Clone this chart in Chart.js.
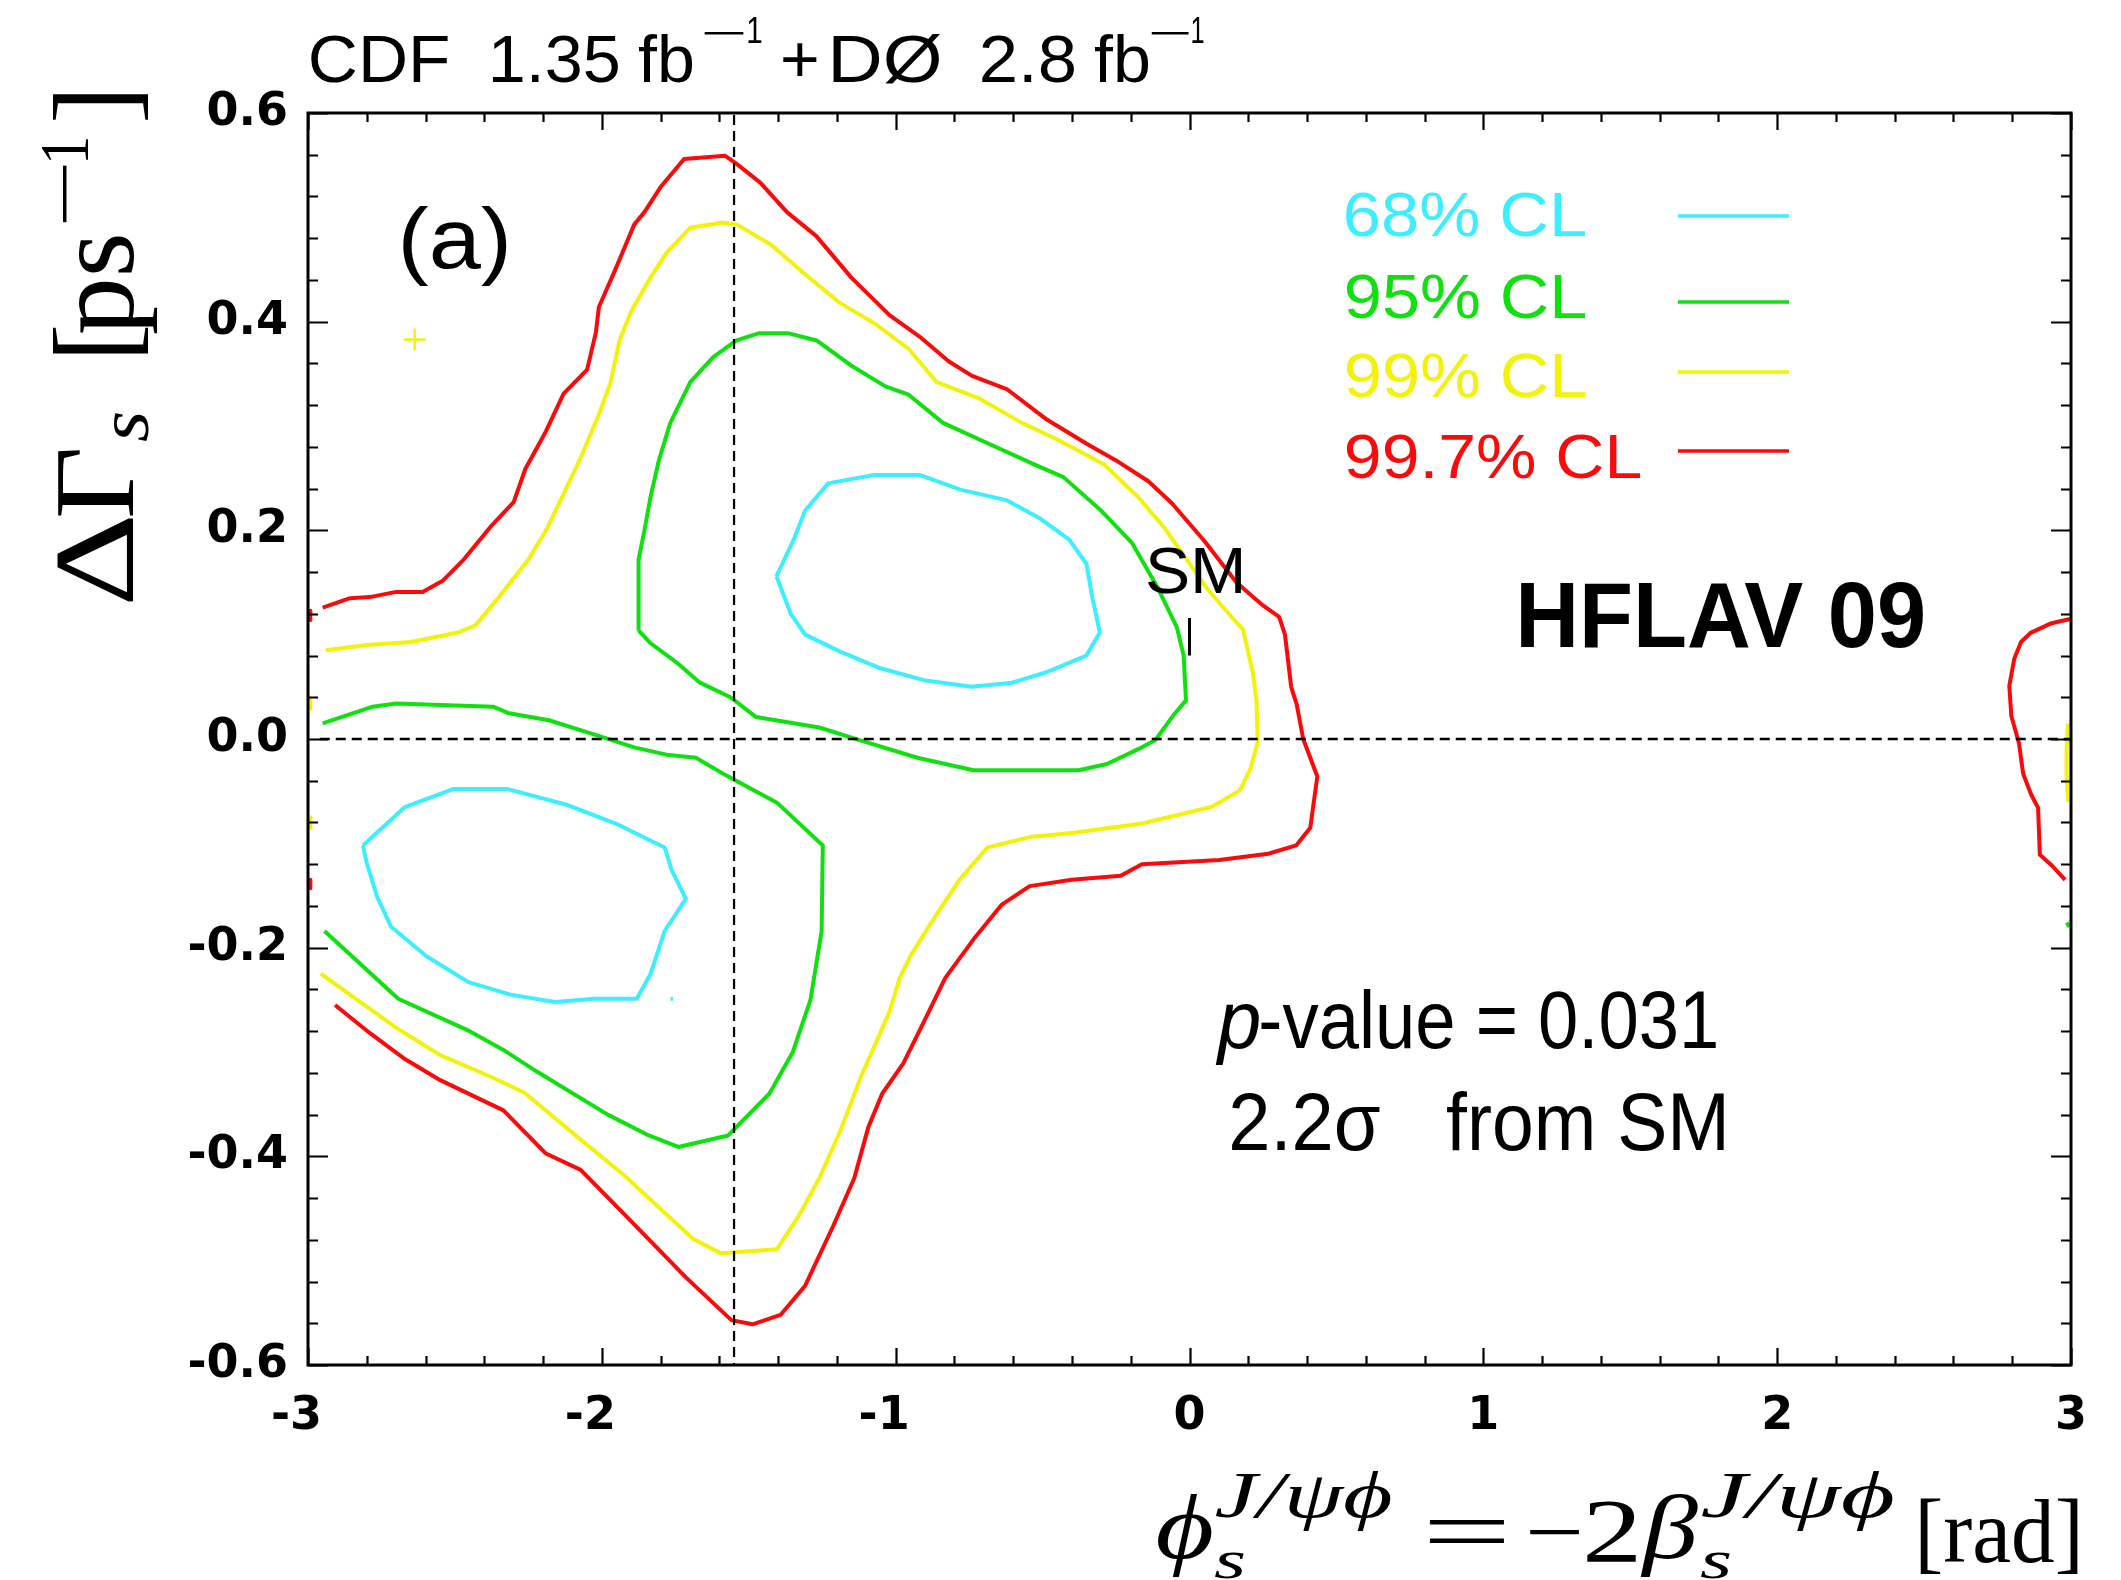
<!DOCTYPE html>
<html><head><meta charset="utf-8">
<script src="https://cdn.jsdelivr.net/npm/chart.js@4.4.1/dist/chart.umd.min.js"></script>
<style>html,body{margin:0;padding:0;background:#fff;}canvas{display:block;}</style>
</head><body>
<canvas id="c" width="2121" height="1580" style="width:2121px;height:1580px"></canvas>
<script>
// ---------- axis ticks ----------
const xTickValues = [-3, -2, -1, 0, 1, 2, 3];
const xTickLabels = ['-3', '-2', '-1', '0', '1', '2', '3'];
const yTickValues = [-0.6, -0.4, -0.2, 0, 0.2, 0.4, 0.6];
const yTickLabels = ['-0.6', '-0.4', '-0.2', '0.0', '0.2', '0.4', '0.6'];

// ---------- contour lines [phi_s, dGamma_s] ----------
const cl997Main = [[-2.95,0.126],[-2.857,0.135],[-2.79,0.136],[-2.70,0.141],[-2.61,0.141],[-2.54,0.152],[-2.47,0.172],[-2.38,0.203],[-2.30,0.227],[-2.26,0.259],[-2.19,0.295],[-2.13,0.331],[-2.05,0.354],[-2.02,0.390],[-2.01,0.414],[-1.96,0.446],[-1.93,0.466],[-1.89,0.493],[-1.855,0.505],[-1.80,0.529],[-1.72,0.556],[-1.58,0.559],[-1.54,0.551],[-1.46,0.533],[-1.37,0.505],[-1.27,0.482],[-1.15,0.442],[-1.02,0.406],[-0.92,0.386],[-0.82,0.362],[-0.74,0.348],[-0.62,0.335],[-0.49,0.307],[-0.35,0.283],[-0.25,0.267],[-0.14,0.247],[-0.06,0.226],[0.05,0.19],[0.16,0.150],[0.25,0.128],[0.305,0.117],[0.325,0.10],[0.346,0.05],[0.365,0.033],[0.387,0.0],[0.435,-0.036],[0.411,-0.085],[0.363,-0.102],[0.268,-0.110],[0.101,-0.116],[-0.162,-0.120],[-0.234,-0.131],[-0.401,-0.135],[-0.544,-0.141],[-0.640,-0.159],[-0.735,-0.192],[-0.831,-0.229],[-0.902,-0.270],[-0.974,-0.311],[-1.046,-0.340],[-1.093,-0.372],[-1.141,-0.421],[-1.213,-0.467],[-1.308,-0.524],[-1.392,-0.552],[-1.487,-0.561],[-1.559,-0.557],[-1.714,-0.516],[-1.929,-0.454],[-2.072,-0.413],[-2.192,-0.397],[-2.335,-0.356],[-2.550,-0.327],[-2.669,-0.307],[-2.789,-0.282],[-2.908,-0.255]];
const cl997Right = [[2.997,0.115],[2.934,0.111],[2.864,0.102],[2.83,0.093],[2.807,0.077],[2.79,0.051],[2.797,0.022],[2.823,-0.004],[2.837,-0.033],[2.864,-0.053],[2.888,-0.066],[2.894,-0.111],[2.934,-0.121],[2.98,-0.135]];
const cl997EdgeA = [[-2.992,0.123],[-2.992,0.114]];
const cl997EdgeB = [[-2.992,-0.135],[-2.992,-0.143]];

const cl99Main = [[-2.94,0.085],[-2.80,0.090],[-2.65,0.093],[-2.49,0.102],[-2.43,0.109],[-2.35,0.136],[-2.25,0.172],[-2.19,0.200],[-2.13,0.235],[-2.07,0.271],[-2.01,0.311],[-1.97,0.342],[-1.94,0.382],[-1.90,0.410],[-1.835,0.442],[-1.78,0.466],[-1.70,0.490],[-1.59,0.495],[-1.54,0.493],[-1.425,0.474],[-1.31,0.446],[-1.19,0.418],[-1.07,0.398],[-0.956,0.374],[-0.86,0.342],[-0.72,0.327],[-0.57,0.303],[-0.45,0.287],[-0.29,0.263],[-0.175,0.232],[-0.087,0.203],[0.063,0.143],[0.162,0.111],[0.182,0.105],[0.216,0.063],[0.228,0.037],[0.232,-0.003],[0.208,-0.028],[0.172,-0.049],[0.077,-0.065],[-0.162,-0.081],[-0.401,-0.090],[-0.544,-0.094],[-0.688,-0.104],[-0.783,-0.135],[-0.879,-0.176],[-0.950,-0.208],[-0.986,-0.229],[-1.022,-0.262],[-1.117,-0.323],[-1.189,-0.376],[-1.260,-0.421],[-1.332,-0.458],[-1.404,-0.489],[-1.595,-0.493],[-1.690,-0.479],[-1.929,-0.417],[-2.072,-0.384],[-2.263,-0.339],[-2.383,-0.323],[-2.550,-0.303],[-2.693,-0.278],[-2.837,-0.249],[-2.956,-0.225]];
const cl99Right = [[2.99,0.015],[2.985,-0.01],[2.985,-0.035],[2.99,-0.06]];
const cl99EdgeA = [[-2.992,0.039],[-2.992,0.029]];
const cl99EdgeB = [[-2.992,-0.075],[-2.992,-0.085]];
const cl99Cross = [[-2.637,0.383]];

const cl95Lower = [[-2.95,0.015],[-2.78,0.031],[-2.70,0.034],[-2.37,0.031],[-2.32,0.025],[-2.18,0.018],[-2.0,0.002],[-1.89,-0.008],[-1.78,-0.015],[-1.68,-0.018],[-1.595,-0.032],[-1.404,-0.061],[-1.248,-0.102],[-1.252,-0.184],[-1.29,-0.25],[-1.35,-0.30],[-1.43,-0.34],[-1.57,-0.38],[-1.74,-0.391],[-1.84,-0.38],[-1.98,-0.36],[-2.22,-0.319],[-2.335,-0.298],[-2.45,-0.28],[-2.693,-0.249],[-2.944,-0.184]];
const cl95Upper = [[-1.875,0.104],[-1.875,0.172],[-1.855,0.20],[-1.835,0.231],[-1.806,0.267],[-1.767,0.303],[-1.699,0.342],[-1.621,0.366],[-1.542,0.382],[-1.464,0.389],[-1.367,0.389],[-1.269,0.382],[-1.152,0.358],[-1.035,0.338],[-0.956,0.330],[-0.839,0.303],[-0.683,0.283],[-0.527,0.263],[-0.429,0.251],[-0.305,0.220],[-0.196,0.188],[-0.11,0.146],[-0.043,0.107],[-0.02,0.08],[-0.012,0.037],[-0.057,0.022],[-0.116,-0.001],[-0.162,-0.008],[-0.281,-0.024],[-0.377,-0.030],[-0.735,-0.030],[-0.926,-0.018],[-1.117,-0.0015],[-1.260,0.011],[-1.475,0.021],[-1.562,0.040],[-1.666,0.054],[-1.744,0.073],[-1.835,0.092],[-1.875,0.104]];
const cl95Dot = [[2.985,-0.176],[2.995,-0.18]];

const cl68Upper = [[-1.406,0.156],[-1.347,0.191],[-1.308,0.219],[-1.230,0.245],[-1.074,0.253],[-0.917,0.253],[-0.780,0.239],[-0.624,0.229],[-0.507,0.211],[-0.409,0.191],[-0.351,0.168],[-0.331,0.136],[-0.305,0.102],[-0.351,0.080],[-0.487,0.064],[-0.604,0.054],[-0.741,0.050],[-0.898,0.056],[-1.054,0.068],[-1.191,0.084],[-1.308,0.100],[-1.357,0.120],[-1.406,0.156]];
const cl68Lower = [[-2.813,-0.102],[-2.669,-0.065],[-2.506,-0.048],[-2.32,-0.048],[-2.120,-0.063],[-1.953,-0.081],[-1.786,-0.104],[-1.762,-0.126],[-1.714,-0.153],[-1.786,-0.184],[-1.834,-0.225],[-1.881,-0.249],[-2.025,-0.249],[-2.160,-0.252],[-2.311,-0.245],[-2.454,-0.233],[-2.598,-0.208],[-2.717,-0.180],[-2.765,-0.151],[-2.801,-0.118],[-2.813,-0.102]];
const cl68Dot = [[-1.766,-0.249],[-1.758,-0.249]];

// reference lines and SM point
const refVertical = [[-1.55,0.598],[-1.55,-0.6]];
const refHorizontal = [[-2.96,0],[3,0]];
const smErrorBar = [[0,0.080],[0,0.116]];

// legend
const legendLabels = ['68% CL', '95% CL', '99% CL', '99.7% CL'];
const CYAN = '#3deeff', GREEN = '#10e010', YELLOW = '#f2f20a', RED = '#fa0a0a';
const legendColors = [CYAN, GREEN, YELLOW, RED];

// ---------- helpers ----------
const toXY = arr => arr.map(p => ({x: p[0], y: p[1]}));
function lineDS(arr, color, width, dash) {
  return { data: toXY(arr), borderColor: color, backgroundColor: color, borderWidth: width,
    borderDash: dash || [], showLine: true, pointRadius: 0, pointHoverRadius: 0, fill: false,
    tension: 0, borderJoinStyle: 'round', borderCapStyle: 'butt' };
}
function fitText(ctx, text, x0, x1, y, font, color) {
  ctx.save();
  ctx.font = font; ctx.fillStyle = color || '#000';
  ctx.textAlign = 'left'; ctx.textBaseline = 'alphabetic';
  const m = ctx.measureText(text);
  const ink = m.actualBoundingBoxLeft + m.actualBoundingBoxRight;
  const s = (x1 - x0) / ink;
  ctx.translate(x0, y); ctx.scale(s, 1);
  ctx.fillText(text, m.actualBoundingBoxLeft, 0);
  ctx.restore();
}
function plainText(ctx, text, x, y, font, color) {
  ctx.save(); ctx.font = font; ctx.fillStyle = color || '#000';
  ctx.textAlign = 'left'; ctx.textBaseline = 'alphabetic';
  ctx.fillText(text, x, y); ctx.restore();
}

const SANS = '"Liberation Sans", Arial, sans-serif';
const SERIF = '"Liberation Serif", "DejaVu Serif", "Times New Roman", serif';

const decor = {
  id: 'decor',
  afterDatasetsDraw(chart) {
    const {ctx, chartArea: a, scales: {x, y}} = chart;
    ctx.save();
    ctx.strokeStyle = '#000'; ctx.lineWidth = 2.2; ctx.lineCap = 'butt';
    ctx.beginPath();
    for (let i = 0; i <= 30; i++) {
      const v = -3 + i * 0.2, px = Math.round(x.getPixelForValue(v)) + 0.5;
      const L = (i % 5 === 0) ? 17 : 9;
      ctx.moveTo(px, a.bottom); ctx.lineTo(px, a.bottom - L);
      ctx.moveTo(px, a.top); ctx.lineTo(px, a.top + L);
    }
    for (let i = 0; i <= 30; i++) {
      const v = -0.6 + i * 0.04, py = Math.round(y.getPixelForValue(v)) + 0.5;
      const L = (i % 5 === 0) ? 20 : 10;
      ctx.moveTo(a.left, py); ctx.lineTo(a.left + L, py);
      ctx.moveTo(a.right, py); ctx.lineTo(a.right - L, py);
    }
    ctx.stroke();
    ctx.lineWidth = 3;
    ctx.strokeRect(a.left, a.top, a.right - a.left, a.bottom - a.top);
    ctx.restore();
  },
  afterDraw(chart) {
    const ctx = chart.ctx;
    // ---- top title ----
    const tf = '66px ' + SANS, sf = '36px ' + SANS;
    fitText(ctx, 'CDF', 311, 448, 82, tf);
    fitText(ctx, '1.35', 493, 618, 82, tf);
    fitText(ctx, 'fb', 638, 692, 82, tf);
    fitText(ctx, '\u2212', 703, 745, 45, sf);
    fitText(ctx, '1', 748, 762, 43, sf);
    fitText(ctx, '+', 783, 817, 82, tf);
    fitText(ctx, 'D\u00D8', 833, 941, 82, tf);
    fitText(ctx, '2.8', 982, 1074, 82, tf);
    fitText(ctx, 'fb', 1094, 1148, 82, tf);
    fitText(ctx, '\u2212', 1150, 1190, 45, sf);
    fitText(ctx, '1', 1192, 1204, 43, sf);

    // ---- y-axis title (rotated) ----
    ctx.save();
    ctx.translate(133, 602); ctx.rotate(-Math.PI / 2);
    const yf = '115px ' + SERIF;
    fitText(ctx, '\u0394', 0, 84, 0, yf);
    fitText(ctx, '\u0393', 86, 152, 0, yf);
    fitText(ctx, 's', 160, 189, 15, 'italic 72px ' + SERIF);
    plainText(ctx, '[', 240, 0, yf);
    fitText(ctx, 'ps', 268, 366, 0, yf);
    fitText(ctx, '\u2212', 379, 438, -45, '70px ' + SERIF);
    fitText(ctx, '1', 442, 463, -45, '70px ' + SERIF);
    plainText(ctx, ']', 478, 0, yf);
    ctx.restore();

    // ---- x-axis title ----
    const xf = '90px ' + SERIF, xi = 'italic 90px ' + SERIF, xs = 'italic 66px ' + SERIF, xb = 'italic 55px ' + SERIF;
    fitText(ctx, '\u03D5', 1158, 1212, 1558, xi);
    fitText(ctx, 'J/\u03C8\u03D5', 1216, 1391, 1517, xs);
    fitText(ctx, 's', 1214, 1244, 1578, xb);
    fitText(ctx, '=', 1429, 1505, 1562, xf);
    fitText(ctx, '\u2212', 1530, 1580, 1562, xf);
    fitText(ctx, '2', 1586, 1637, 1562, xf);
    fitText(ctx, '\u03B2', 1640, 1698, 1558, xi);
    fitText(ctx, 'J/\u03C8\u03D5', 1702, 1893, 1517, xs);
    fitText(ctx, 's', 1700, 1730, 1578, xb);
    fitText(ctx, '[rad]', 1920, 2078, 1562, xf);

    // ---- annotations ----
    fitText(ctx, '(a)', 403, 507, 268, '86px ' + SANS);
    fitText(ctx, 'SM', 1147, 1242, 593, '64px ' + SANS);
    fitText(ctx, 'HFLAV 09', 1521, 1923, 647, 'bold 92px ' + SANS);
    fitText(ctx, 'p', 1215, 1259, 1048, 'italic 82px ' + SANS);
    fitText(ctx, '-value = 0.031', 1261, 1716, 1048, '82px ' + SANS);
    fitText(ctx, '2.2\u03C3', 1232, 1380, 1150, '82px ' + SANS);
    fitText(ctx, 'from SM', 1447, 1724, 1150, '82px ' + SANS);

    // ---- legend ----
    const lx0 = 1346, lineX0 = 1678, lineX1 = 1789;
    const textRight = [1585, 1585, 1585, 1640];
    const baselines = [236, 318, 397, 478];
    const lineYs = [216, 302, 372, 451];
    for (let i = 0; i < legendLabels.length; i++) {
      fitText(ctx, legendLabels[i], lx0, textRight[i], baselines[i], '63px ' + SANS, legendColors[i]);
      ctx.save(); ctx.strokeStyle = legendColors[i]; ctx.lineWidth = 3.5;
      ctx.beginPath(); ctx.moveTo(lineX0, lineYs[i]); ctx.lineTo(lineX1, lineYs[i]); ctx.stroke(); ctx.restore();
    }
  }
};

const W = 4;
const datasets = [
  lineDS(refVertical, '#000', 2.2, [10, 6]),
  lineDS(refHorizontal, '#000', 2.5, [10, 6]),
  lineDS(smErrorBar, '#000', 3),
  lineDS(cl68Upper, CYAN, W), lineDS(cl68Lower, CYAN, W), lineDS(cl68Dot, CYAN, W),
  lineDS(cl95Upper, GREEN, W), lineDS(cl95Lower, GREEN, W), lineDS(cl95Dot, GREEN, W),
  lineDS(cl99Main, YELLOW, W), lineDS(cl99Right, YELLOW, W), lineDS(cl99EdgeA, YELLOW, W), lineDS(cl99EdgeB, YELLOW, W),
  lineDS(cl997Main, RED, W), lineDS(cl997Right, RED, W), lineDS(cl997EdgeA, RED, W), lineDS(cl997EdgeB, RED, W),
  { data: toXY(cl99Cross), showLine: false, pointStyle: 'cross', pointRadius: 11, borderColor: YELLOW, backgroundColor: YELLOW, borderWidth: 2.5 }
];

new Chart(document.getElementById('c'), {
  type: 'scatter',
  data: { datasets },
  options: {
    responsive: false, animation: false, devicePixelRatio: 1,
    layout: { padding: { left: 0, right: 50, top: 113, bottom: 0 } },
    plugins: { legend: { display: false }, tooltip: { enabled: false } },
    events: [],
    scales: {
      x: {
        type: 'linear', min: -3, max: 3,
        grid: { display: false, drawTicks: false }, border: { display: false },
        afterBuildTicks: s => { s.ticks = xTickValues.map(v => ({ value: v })); },
        ticks: { autoSkip: false, maxRotation: 0, color: '#000', padding: 24,
          font: { family: '"DejaVu Sans"', weight: 'bold', size: 46 },
          callback: (v, i) => { const t = xTickLabels[i]; return t.startsWith('-') ? t + '\u2002' : t; } },
        afterFit: s => { s.height = 215; }
      },
      y: {
        type: 'linear', min: -0.6, max: 0.6,
        grid: { display: false, drawTicks: false }, border: { display: false },
        afterBuildTicks: s => { s.ticks = yTickValues.map(v => ({ value: v })); },
        ticks: { autoSkip: false, color: '#000', padding: 20,
          font: { family: '"DejaVu Sans"', weight: 'bold', size: 46 },
          callback: (v, i) => yTickLabels[i] },
        afterFit: s => { s.width = 308; }
      }
    }
  },
  plugins: [decor]
});
</script>
</body></html>
